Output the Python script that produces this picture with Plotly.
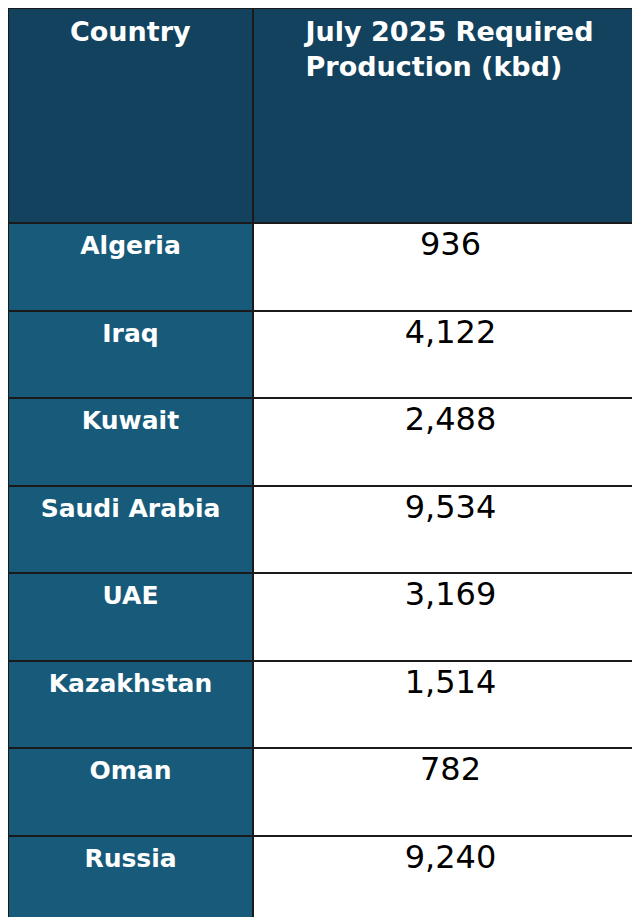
import plotly.graph_objects as go

countries = ["Algeria", "Iraq", "Kuwait", "Saudi Arabia", "UAE", "Kazakhstan", "Oman", "Russia"]
production = ["936", "4,122", "2,488", "9,534", "3,169", "1,514", "782", "9,240"]
headers = ["<b>Country</b>", "<b>July 2025 Required<br>Production (kbd)</b>"]

fig = go.Figure(go.Table(
    columnwidth=[245, 395],
    header=dict(
        values=headers,
        fill_color="#12425e",
        line_color="#1a1a1a",
        line_width=2,
        font=dict(family="DejaVu Sans", size=27, color="white"),
        align="center",
        height=215,
    ),
    cells=dict(
        values=[["<b>%s</b>" % c for c in countries], production],
        fill_color=[["#175a7a"] * len(countries), ["white"] * len(countries)],
        line_color="#1a1a1a",
        line_width=2,
        font=dict(family="DejaVu Sans", size=[25, 32], color=["white", "black"]),
        align="center",
        height=87.5,
    ),
))
fig.update_layout(width=640, height=917, margin=dict(l=0, r=0, t=0, b=0),
                  paper_bgcolor="white")
fig.write_html("out.html")
